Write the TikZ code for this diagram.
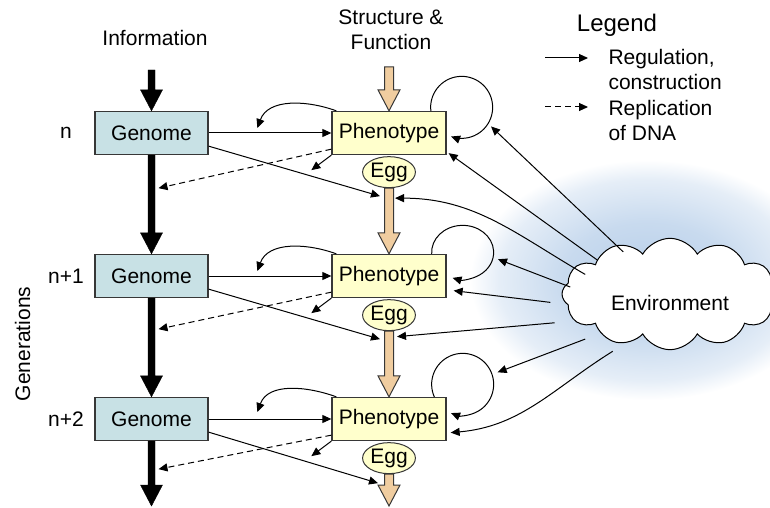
\documentclass[tikz,border=0pt]{standalone}
\usepackage{fontspec}
\setmainfont{Liberation Sans}
\usetikzlibrary{shapes.geometric,shapes.symbols}
\usetikzlibrary{arrows,arrows.meta}
\usetikzlibrary{calc,positioning}
\definecolor{rim}{RGB}{55,55,55}
\definecolor{genomefill}{RGB}{200,225,229}
\definecolor{phenofill}{RGB}{255,255,204}
\definecolor{eggtan}{RGB}{240,205,160}
\definecolor{glow}{RGB}{182,206,233}
\pgfdeclareradialshading{envglow}{\pgfpointorigin}{color(0bp)=(glow); color(12bp)=(glow!75!white); color(21bp)=(glow!35!white); color(25bp)=(white); color(50bp)=(white)}

% fat vertical arrow: style, half shaft width, from, to
\newcommand{\bigarrow}[4]{%
  \draw[#1] let \p1=(#3), \p2=(#4) in
    (\x1-#2,\y1) -- (\x1-#2,\y2+21pt) -- (\x1-11pt,\y2+21pt) -- (\x1,\y2)
    -- (\x1+11pt,\y2+21pt) -- (\x1+#2,\y2+21pt) -- (\x1+#2,\y1) -- cycle;}

\begin{document}
\begin{tikzpicture}[x=1pt, y=1pt, font=\fontsize{21}{25}\selectfont,
    box/.style={draw=rim, line width=1.3pt, minimum height=43pt, inner sep=0pt},
    genome/.style={box, fill=genomefill, minimum width=113pt},
    pheno/.style={box, fill=phenofill, minimum width=114pt},
    egg/.style={ellipse, draw=rim, line width=1pt, fill=phenofill, minimum width=52pt, minimum height=31pt, inner sep=0pt},
    reg/.style={line width=1pt, -{Stealth[inset=0pt, length=9pt, width=8pt]}},
    repl/.style={reg, dash pattern=on 6pt off 4pt}]

    \useasboundingbox (0,0) rectangle (770,507);

    % environment glow and cloud
    \shade[shading=envglow] (648,227) ellipse [x radius=178, y radius=120];
    \node[cloud, cloud puffs=12, cloud puff arc=120, aspect=2, draw=black, line width=1pt, fill=white,
          minimum width=216pt, minimum height=110pt, text height=32pt, text depth=0pt] (env) at (670,213) {Environment};

    % headings and legend
    \node (infolabel) at (155,469) {Information};
    \node[align=center] (sflabel) at (391,477) {Structure \&\\Function};
    \node (legend) at (617,482) {\fontsize{24}{28}\selectfont Legend};
    \node[align=left, anchor=west] (regtext) at (605,438) {Regulation,\\construction};
    \node[align=left, anchor=west] (repltext) at (605,387) {Replication\\of DNA};
    \coordinate (rega) at (545,449);
    \coordinate (regb) at (588,449);
    \coordinate (repla) at (545,400);
    \coordinate (replb) at (588,400);
    \draw[reg] (rega) -- (regb);
    \draw[repl] (repla) -- (replb);

    \node (n0) at (66,374) {n};
    \node (n1) at (66,231) {n+1};
    \node (n2) at (66,88) {n+2};
    \node[rotate=90] (gens) at (22.5,163) {Generations};

    % genomes, phenotypes, eggs
    \node[genome] (g1) at (151.5,374) {Genome};
    \node[genome] (g2) at (151.5,231) {Genome};
    \node[genome] (g3) at (151.5,88) {Genome};
    \node[pheno] (p1) at (389,374) {Phenotype};
    \node[pheno] (p2) at (389,231) {Phenotype};
    \node[pheno] (p3) at (389,88) {Phenotype};
    \node[egg, below=1pt of p1] (e1) {Egg};
    \node[egg, below=1pt of p2] (e2) {Egg};
    \node[egg, below=1pt of p3] (e3) {Egg};

    \coordinate (infotop) at (151.5,437);
    \coordinate (infoend) at (151.5,1);
    \coordinate (sftop) at (389,440);
    \coordinate (sfend) at (389,1);
    \bigarrow{fill=black}{3.5pt}{infotop}{g1.north}
    \bigarrow{fill=black}{3.5pt}{g1.south}{g2.north}
    \bigarrow{fill=black}{3.5pt}{g2.south}{g3.north}
    \bigarrow{fill=black}{3.5pt}{g3.south}{infoend}
    \bigarrow{draw=rim, fill=eggtan, line width=1pt}{4.5pt}{sftop}{p1.north}
    \bigarrow{draw=rim, fill=eggtan, line width=1pt}{4.5pt}{e1.south}{p2.north}
    \bigarrow{draw=rim, fill=eggtan, line width=1pt}{4.5pt}{e2.south}{p3.north}
    \bigarrow{draw=rim, fill=eggtan, line width=1pt}{4.5pt}{e3.south}{sfend}

    % generation n
    \coordinate (b1) at ([xshift=-74pt,yshift=5pt]p1.west);
    \coordinate (d1) at ([xshift=7pt,yshift=-33pt]g1.south);
    \coordinate (s1) at ([xshift=-20pt,yshift=-15pt]p1.south west);
    \coordinate (t1) at ([xshift=-9pt,yshift=-8pt]e1.south);
    \coordinate (l1) at ([xshift=15pt,yshift=3.5pt]p1.north east);
    \draw[reg] (g1) -- (p1);
    \draw[reg] ([xshift=5pt]p1.north west) to[out=160,in=70] (b1);
    \draw[repl] ([yshift=6pt]p1.south west) -- (d1);
    \draw[reg] (p1.south west) -- (s1);
    \draw[reg] ([yshift=9pt]g1.south east) -- (t1);
    \draw[reg] ($(l1)+(187:31pt)$) arc[start angle=187, end angle=-110, radius=31pt];

    % generation n+1
    \coordinate (b2) at ([xshift=-74pt,yshift=5pt]p2.west);
    \coordinate (d2) at ([xshift=7pt,yshift=-31pt]g2.south);
    \coordinate (s2) at ([xshift=-20pt,yshift=-15pt]p2.south west);
    \coordinate (t2) at ([xshift=-9pt,yshift=-8pt]e2.south);
    \coordinate (l2) at ([xshift=16pt,yshift=1.5pt]p2.north east);
    \draw[reg] (g2) -- (p2);
    \draw[reg] ([xshift=5pt]p2.north west) to[out=160,in=70] (b2);
    \draw[repl] ([yshift=6pt]p2.south west) -- (d2);
    \draw[reg] (p2.south west) -- (s2);
    \draw[reg] ([yshift=9pt]g2.south east) -- (t2);
    \draw[reg] ($(l2)+(183:31pt and 27pt)$) arc[start angle=183, end angle=-109, x radius=31pt, y radius=27pt];

    % generation n+2
    \coordinate (b3) at ([xshift=-74pt,yshift=7pt]p3.west);
    \coordinate (d3) at ([xshift=7pt,yshift=-28pt]g3.south);
    \coordinate (s3) at ([xshift=-20pt,yshift=-15pt]p3.south west);
    \coordinate (t3) at ([xshift=-11pt,yshift=-9pt]e3.south);
    \coordinate (l3) at ([xshift=16pt,yshift=12.5pt]p3.north east);
    \draw[reg] (g3) -- (p3);
    \draw[reg] ([xshift=5pt]p3.north west) to[out=160,in=70] (b3);
    \draw[repl] ([yshift=6pt]p3.south west) -- (d3);
    \draw[reg] (p3.south west) -- (s3);
    \draw[reg] ([yshift=9pt]g3.south east) -- (t3);
    \draw[reg] ($(l3)+(204:31pt)$) arc[start angle=204, end angle=-112, radius=31pt];

    % environment influences
    \draw[reg] ($(env.center)+(138:63)$) -- ($(l1)+(-33:35)$);
    \draw[reg] ($(env.center)+(155:80)$) -- ([shift={(2pt,2pt)}]p1.south east);
    \draw[reg] ($(env.center)+(167:87)$) to[out=150,in=0] ([xshift=6pt,yshift=-10pt]e1.south);
    \draw[reg] ($(env.center)+(176:100)$) -- ($(l2)+(-11:36)$);
    \draw[reg] ($(env.center)+(184:120)$) -- ([shift={(7pt,7.5pt)}]p2.south east);
    \draw[reg] ($(env.center)+(194:119)$) -- ([shift={(8pt,-5.5pt)}]e2.south);
    \draw[reg] ($(env.center)+(208:96)$) -- ($(l3)+(19:37)$);
    \draw[reg] ($(env.center)+(225:81)$) to[out=212,in=5] ([shift={(4pt,8.5pt)}]p3.south east);

\end{tikzpicture}
\end{document}
